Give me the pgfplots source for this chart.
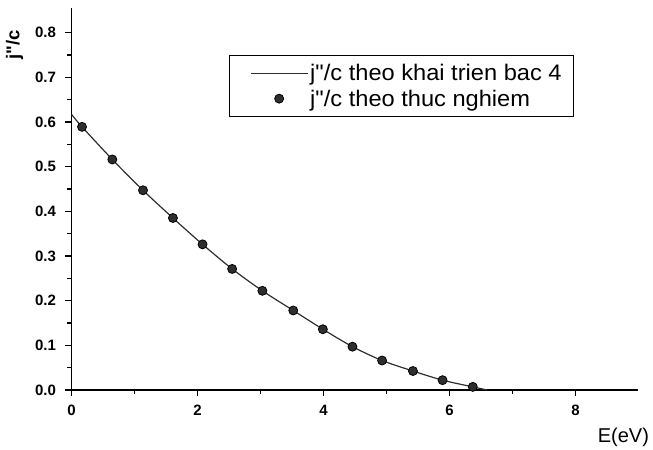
\documentclass[border=0pt]{standalone}
\usepackage{fontspec}
\setmainfont{Liberation Sans}[Ligatures=TeXOff]
\newfontfamily\legfont{Liberation Sans}[Ligatures=TeXOff, FakeStretch=1.05]
\usepackage{pgfplots}
\pgfplotsset{compat=1.18}
\usepackage{pgfplotstable}

\pgfplotstableread{
x y
0.167 0.589
0.648 0.516
1.135 0.447
1.61 0.385
2.08 0.326
2.55 0.271
3.03 0.222
3.52 0.178
3.99 0.136
4.46 0.097
4.93 0.066
5.42 0.0425
5.89 0.022
6.37 0.007
}\exptable

\pgfplotstableread{
x y
0 0.617
0.167 0.589
0.648 0.516
1.135 0.447
1.61 0.385
2.08 0.326
2.55 0.271
3.03 0.222
3.52 0.178
3.99 0.136
4.46 0.097
4.93 0.066
5.42 0.0425
5.89 0.022
6.37 0.007
6.6 0.0
}\fittable

\definecolor{curve}{HTML}{2E2E2E}
\pgfplotsset{
  lineleg/.style={legend image code/.code={\path (-11bp,0bp); \draw[##1] (0bp,0bp) -- (57bp,0bp);}},
  markleg/.style={legend image code/.code={\path (-11bp,0bp) (57bp,0bp); \draw[##1] plot coordinates {(28.5bp,0bp)};}},
}

\begin{document}
\begin{tikzpicture}
\begin{axis}[
  scale only axis, width=567bp, height=382bp,
  xmin=0, xmax=9, ymin=0, ymax=0.855,
  axis lines=left,
  axis line style={line width=1.6bp, -},
  xtick={0,2,4,6,8}, minor x tick num=1,
  ytick={0,0.1,0.2,0.3,0.4,0.5,0.6,0.7,0.8}, minor y tick num=1,
  tick align=outside, major tick length=6bp, minor tick length=4bp,
  every tick/.style={black, line width=1.3bp},
  /pgf/number format/assume math mode=true,
  ticklabel style={font=\bfseries\fontsize{15bp}{17bp}\selectfont},
  yticklabel style={/pgf/number format/.cd, fixed, fixed zerofill, precision=1, /tikz/.cd, xshift=-6bp},
  xticklabel style={yshift=-6bp},
  xlabel={E(eV)},
  xlabel style={font=\fontsize{20bp}{22bp}\selectfont, at={(axis description cs:1,0)}, anchor=east, xshift=14bp, yshift=-47bp},
  ylabel={j"/c},
  ylabel style={font=\bfseries\fontsize{18.5bp}{20bp}\selectfont, at={(axis description cs:-0.1005,0.904)}, anchor=center},
  legend style={at={(axis description cs:0.277,0.877)}, anchor=north west,
    draw=black, line width=1bp, font=\legfont\fontsize{22.5bp}{25bp}\selectfont,
    inner xsep=10bp, inner ysep=7bp, row sep=3.5bp},
  legend cell align=left,
]
\addplot[curve, line width=1.2bp, smooth, tension=0.5, lineleg] table[x=x,y=y] {\fittable};
\addlegendentry{j"/c theo khai trien bac 4}
\addplot[only marks, mark=*, mark size=4.5bp, mark options={fill=curve, draw=black, line width=0.8bp}, markleg] table[x=x,y=y] {\exptable};
\addlegendentry{j"/c theo thuc nghiem}
\end{axis}
\path[use as bounding box] (-71.5bp,-59bp) rectangle (581.5bp,390bp);
\end{tikzpicture}
\end{document}
